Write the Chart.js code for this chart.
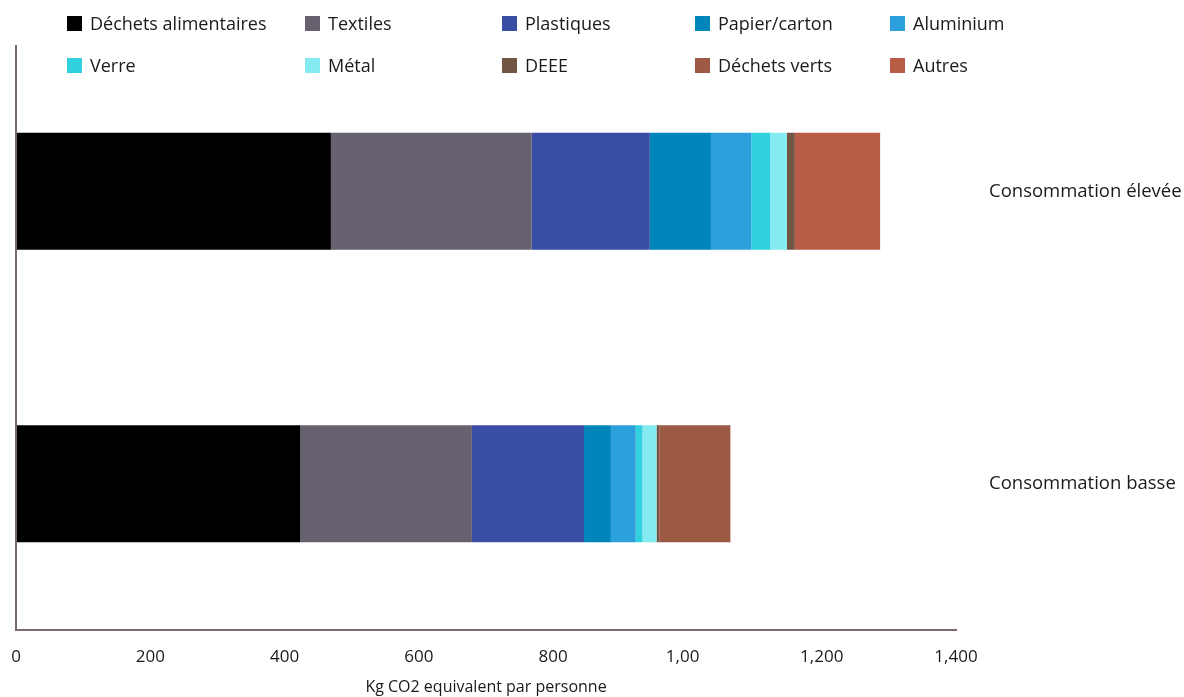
<!DOCTYPE html>
<html lang="fr">
<head>
<meta charset="utf-8">
<title>Kg CO2 par personne</title>
<script src="https://cdn.jsdelivr.net/npm/chart.js@4.4.1/dist/chart.umd.min.js"></script>
<style>
  body { margin: 0; background: #fff; }
  #wrap { position: relative; width: 1184px; height: 697px; }
  #legende { position: absolute; left: 0; top: 0; font-family: 'Open Sans', sans-serif; font-size: 18px; color: #1a1a1a; }
  .item { position: absolute; display: flex; align-items: center; white-space: nowrap; line-height: 24px; }
  .boks { width: 15px; height: 15px; margin-right: 8px; }
</style>
</head>
<body>
<div id="wrap">
  <canvas id="myChart"></canvas>
  <div id="legende"></div>
</div>
<script>
// Kategorier (y-akse) og tick-tekster (x-akse)
const kategorier = ['Consommation élevée', 'Consommation basse'];
const xTicks = ['0', '200', '400', '600', '800', '1,00\u2007', '1,200', '1,400'];

// Avfallstyper
const typer = ['Déchets alimentaires', 'Textiles', 'Plastiques', 'Papier/carton', 'Aluminium',
  'Verre', 'Métal', 'DEEE', 'Déchets verts', 'Autres'];
const farger = ['#000000', '#67606f', '#3a4da5', '#0085bb', '#2ba0dc',
  '#31d1df', '#83ebf1', '#735543', '#9c5a44', '#b85b47'];

// Verdier (kg CO2 eq per person) – [élevée, basse]
const eleve = [469, 299, 176, 91, 60, 28, 25, 12, 0, 127];
const basse = [423, 256, 167, 40, 37, 10, 21, 4, 106, 0];

const aksefarge = '#7b6b70';

// Legende i rutenett (5 kolonner x 2 rader)
const kolonneX = [67, 305, 502, 695, 890];
const radY = [11, 53];
const legende = document.getElementById('legende');
typer.forEach((t, i) => {
  const d = document.createElement('div');
  d.className = 'item';
  d.style.left = kolonneX[i % 5] + 'px';
  d.style.top = radY[Math.floor(i / 5)] + 'px';
  d.innerHTML = '<span class="boks" style="background:' + farger[i] + '"></span><span>' + t + '</span>';
  legende.appendChild(d);
});

const ctx = document.getElementById('myChart').getContext('2d');
new Chart(ctx, {
  type: 'bar',
  data: {
    labels: kategorier,
    datasets: typer.map((t, i) => ({
      label: t,
      data: [eleve[i], basse[i]],
      backgroundColor: farger[i],
      borderWidth: 0,
      barPercentage: 0.4,
      categoryPercentage: 1
    }))
  },
  options: {
    indexAxis: 'y',
    responsive: true,
    maintainAspectRatio: false,
    animation: false,
    layout: { padding: { left: 16, top: 45, right: 0, bottom: 0 } },
    plugins: {
      legend: { display: false },
      tooltip: { enabled: false }
    },
    scales: {
      x: {
        stacked: true,
        min: 0,
        max: 1400,
        afterFit: s => { s.height = 67; s.paddingLeft = 0; s.paddingRight = 0; },
        ticks: {
          stepSize: 200,
          padding: 17,
          color: '#1a1a1a',
          font: { family: 'Open Sans', size: 17 },
          callback: (v, i) => xTicks[i]
        },
        grid: {
          drawTicks: false,
          lineWidth: 2,
          color: c => (c.tick && c.tick.value === 0) ? aksefarge : 'transparent'
        },
        border: { display: true, color: aksefarge, width: 2 },
        title: {
          display: true,
          text: 'Kg CO2 equivalent par personne',
          color: '#1a1a1a',
          font: { family: 'Open Sans', size: 16 },
          padding: { top: 0, bottom: 0 }
        }
      },
      y: {
        stacked: true,
        position: 'right',
        afterFit: s => { s.width = 228; },
        grid: { display: false, drawTicks: false },
        border: { display: false },
        ticks: {
          padding: 33,
          color: '#1a1a1a',
          font: { family: 'Open Sans', size: 18.5 }
        }
      }
    }
  }
});
</script>
</body>
</html>
